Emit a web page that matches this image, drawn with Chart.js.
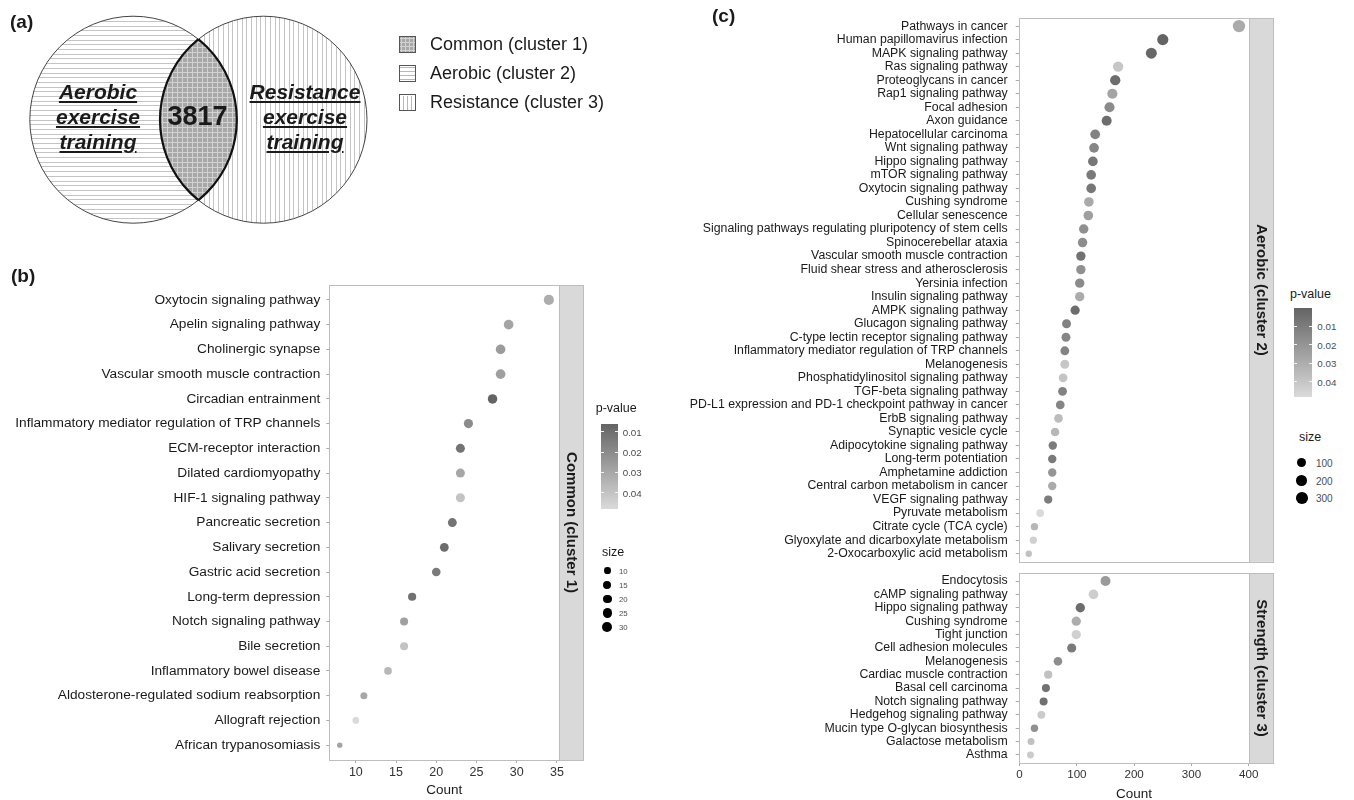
<!DOCTYPE html>
<html>
<head>
<meta charset="utf-8">
<script src="https://cdn.jsdelivr.net/npm/chart.js@4.4.1/dist/chart.umd.min.js"></script>
<style>
body { margin: 0; background: #fff; font-family: "Liberation Sans", Arial, Helvetica, sans-serif; color: #1a1a1a; }
#page { position: relative; width: 1354px; height: 800px; overflow: hidden; }
.abs { position: absolute; white-space: nowrap; }
.mid { transform: translateY(-50%); }
.tag { position: absolute; font-weight: bold; font-size: 19px; line-height: 20px; }
.vtxt { position: absolute; width: 150px; text-align: center; font-weight: bold; font-style: italic; font-size: 21px; line-height: 25px; text-decoration: underline; }
canvas { position: absolute; }
</style>
</head>
<body>
<div id="page">
  <canvas id="venn" width="620" height="240" style="left:0;top:0"></canvas>
  <canvas id="chartB" width="600" height="520" style="left:0;top:280px"></canvas>
  <canvas id="chartC1" width="600" height="568" style="left:690px;top:0"></canvas>
  <canvas id="chartC2" width="600" height="232" style="left:690px;top:568px"></canvas>
  <div class="tag" style="left:10px;top:12px">(a)</div>
  <div class="tag" style="left:11px;top:266px">(b)</div>
  <div class="tag" style="left:712px;top:6px">(c)</div>
</div>
<script>
// ---- data ----
const vennOverlap = 3817;
const vennSets = ['Aerobic exercise training', 'Resistance exercise training'];
const vennLegend = ['Common (cluster 1)', 'Aerobic (cluster 2)', 'Resistance (cluster 3)'];

// (b) common pathways
const bPathways = ['Oxytocin signaling pathway', 'Apelin signaling pathway', 'Cholinergic synapse',
  'Vascular smooth muscle contraction', 'Circadian entrainment', 'Inflammatory mediator regulation of TRP channels',
  'ECM-receptor interaction', 'Dilated cardiomyopathy', 'HIF-1 signaling pathway', 'Pancreatic secretion',
  'Salivary secretion', 'Gastric acid secretion', 'Long-term depression', 'Notch signaling pathway',
  'Bile secretion', 'Inflammatory bowel disease', 'Aldosterone-regulated sodium reabsorption',
  'Allograft rejection', 'African trypanosomiasis'];
const bCount = [34, 29, 28, 28, 27, 24, 23, 23, 23, 22, 21, 20, 17, 16, 16, 14, 11, 10, 8];
const bPValue = [0.032, 0.029, 0.026, 0.027, 0.0062, 0.020, 0.012, 0.030, 0.040, 0.012,
  0.009, 0.014, 0.011, 0.027, 0.040, 0.036, 0.030, 0.048, 0.029];
const bXTicks = [10, 15, 20, 25, 30, 35];
const bSizeBreaks = [10, 15, 20, 25, 30];

// (c) aerobic / strength pathways
const cAerobicPathways = ['Pathways in cancer', 'Human papillomavirus infection', 'MAPK signaling pathway',
  'Ras signaling pathway', 'Proteoglycans in cancer', 'Rap1 signaling pathway', 'Focal adhesion', 'Axon guidance',
  'Hepatocellular carcinoma', 'Wnt signaling pathway', 'Hippo signaling pathway', 'mTOR signaling pathway',
  'Oxytocin signaling pathway', 'Cushing syndrome', 'Cellular senescence',
  'Signaling pathways regulating pluripotency of stem cells', 'Spinocerebellar ataxia',
  'Vascular smooth muscle contraction', 'Fluid shear stress and atherosclerosis', 'Yersinia infection',
  'Insulin signaling pathway', 'AMPK signaling pathway', 'Glucagon signaling pathway',
  'C-type lectin receptor signaling pathway', 'Inflammatory mediator regulation of TRP channels', 'Melanogenesis',
  'Phosphatidylinositol signaling pathway', 'TGF-beta signaling pathway',
  'PD-L1 expression and PD-1 checkpoint pathway in cancer', 'ErbB signaling pathway', 'Synaptic vesicle cycle',
  'Adipocytokine signaling pathway', 'Long-term potentiation', 'Amphetamine addiction',
  'Central carbon metabolism in cancer', 'VEGF signaling pathway', 'Pyruvate metabolism', 'Citrate cycle (TCA cycle)',
  'Glyoxylate and dicarboxylate metabolism', '2-Oxocarboxylic acid metabolism'];
const cAerobicCount = [383, 250, 230, 172, 167, 162, 157, 152, 132, 130, 128, 125, 125, 121, 120, 112, 110, 107, 107, 105,
  105, 97, 82, 81, 79, 79, 76, 75, 71, 68, 62, 58, 57, 57, 57, 50, 36, 26, 24, 16];
const cAerobicPValue = [0.029, 0.0003, 0.002, 0.040, 0.004, 0.026, 0.016, 0.004, 0.013, 0.014, 0.008, 0.009, 0.008, 0.028,
  0.024, 0.018, 0.017, 0.006, 0.018, 0.016, 0.029, 0.004, 0.012, 0.014, 0.013, 0.040, 0.039, 0.012, 0.014, 0.036,
  0.034, 0.010, 0.009, 0.020, 0.029, 0.010, 0.048, 0.034, 0.044, 0.038];
const cStrengthPathways = ['Endocytosis', 'cAMP signaling pathway', 'Hippo signaling pathway', 'Cushing syndrome',
  'Tight junction', 'Cell adhesion molecules', 'Melanogenesis', 'Cardiac muscle contraction', 'Basal cell carcinoma',
  'Notch signaling pathway', 'Hedgehog signaling pathway', 'Mucin type O-glycan biosynthesis',
  'Galactose metabolism', 'Asthma'];
const cStrengthCount = [150, 129, 106, 99, 99, 91, 67, 50, 46, 42, 38, 26, 20, 19];
const cStrengthPValue = [0.022, 0.043, 0.004, 0.030, 0.044, 0.009, 0.017, 0.038, 0.006, 0.005, 0.042, 0.018, 0.038, 0.042];
const cXTicks = [0, 100, 200, 300, 400];
const cSizeBreaks = [100, 200, 300];

const pBreaks = [0.01, 0.02, 0.03, 0.04];

// ---- helpers ----
const FONT = '"Liberation Sans", Arial, Helvetica, sans-serif';
const DARK = 100, LIGHT = 218;
const page = document.getElementById('page');

function grayFor(p, pmin, pmax) {
  const t = Math.max(0, Math.min(1, (p - pmin) / (pmax - pmin)));
  const v = Math.round(DARK + t * (LIGHT - DARK));
  return `rgb(${v},${v},${v})`;
}

// ggplot-like area scale: sqrt of rescaled value
function sizeScale(vmin, vmax, rmin, rmax) {
  return v => rmin + Math.sqrt(Math.max(0, (v - vmin) / (vmax - vmin))) * (rmax - rmin);
}

function addText(txt, x, y, css) {
  const d = document.createElement('div');
  d.className = 'abs mid';
  d.style.left = x + 'px';
  d.style.top = y + 'px';
  d.textContent = txt;
  Object.assign(d.style, css || {});
  page.appendChild(d);
  return d;
}

// ---- (a) venn ----
function hatch(ctx, x0, y0, x1, y1, step, dir, color) {
  ctx.strokeStyle = color;
  ctx.lineWidth = 1;
  ctx.beginPath();
  if (dir === 'h') {
    for (let y = y0; y <= y1; y += step) { const yy = Math.round(y) + 0.5; ctx.moveTo(x0, yy); ctx.lineTo(x1, yy); }
  } else {
    for (let x = x0; x <= x1; x += step) { const xx = Math.round(x) + 0.5; ctx.moveTo(xx, y0); ctx.lineTo(xx, y1); }
  }
  ctx.stroke();
}

function drawVenn() {
  const ctx = document.getElementById('venn').getContext('2d');
  const L = {x: 133.3, y: 119.7}, R = {x: 263.5, y: 119.7}, r = 103.5;
  const circ = c => { ctx.beginPath(); ctx.arc(c.x, c.y, r, 0, Math.PI * 2); };

  ctx.save(); circ(L); ctx.clip();
  ctx.fillStyle = '#fff'; ctx.fillRect(0, 0, 400, 240);
  hatch(ctx, 0, 2, 400, 240, 4.7, 'h', '#c4c4c4');
  ctx.restore();

  ctx.save(); circ(R); ctx.clip();
  ctx.fillStyle = '#fff'; ctx.fillRect(0, 0, 400, 240);
  hatch(ctx, 2, 0, 400, 240, 4.7, 'v', '#c4c4c4');
  ctx.restore();

  // overlap
  ctx.save(); circ(L); ctx.clip(); circ(R); ctx.clip();
  ctx.fillStyle = '#a8a8a8'; ctx.fillRect(0, 0, 400, 240);
  hatch(ctx, 0, 2, 400, 240, 5, 'h', '#d2d2d2');
  hatch(ctx, 2, 0, 400, 240, 5, 'v', '#d2d2d2');
  ctx.restore();

  ctx.strokeStyle = '#444'; ctx.lineWidth = 1;
  circ(L); ctx.stroke();
  circ(R); ctx.stroke();

  ctx.strokeStyle = '#111'; ctx.lineWidth = 2.2;
  ctx.save(); circ(R); ctx.clip(); circ(L); ctx.stroke(); ctx.restore();
  ctx.save(); circ(L); ctx.clip(); circ(R); ctx.stroke(); ctx.restore();

  // legend keys
  const keyY = [44, 73, 102];
  keyY.forEach((cy, i) => {
    const x = 399, y = cy - 8, w = 16, h = 16;
    ctx.save();
    ctx.beginPath(); ctx.rect(x, y, w, h); ctx.clip();
    if (i === 0) {
      ctx.fillStyle = '#a8a8a8'; ctx.fillRect(x, y, w, h);
      hatch(ctx, x, y + 2, x + w, y + h, 4, 'h', '#d2d2d2');
      hatch(ctx, x + 2, y, x + w, y + h, 4, 'v', '#d2d2d2');
    } else {
      ctx.fillStyle = '#fff'; ctx.fillRect(x, y, w, h);
      hatch(ctx, x, y + 2, x + w, y + h, 4, i === 1 ? 'h' : 'v', '#b8b8b8');
    }
    ctx.restore();
    ctx.strokeStyle = '#555'; ctx.lineWidth = 1;
    ctx.strokeRect(x + 0.5, y + 0.5, w, h);
    addText(vennLegend[i], 430, cy, {fontSize: '18px'});
  });

  // set labels
  [[98, vennSets[0]], [305, vennSets[1]]].forEach(([cx, name]) => {
    const d = document.createElement('div');
    d.className = 'vtxt';
    d.style.left = (cx - 75) + 'px';
    d.style.top = '79px';
    d.innerHTML = name.split(' ').join('<br>');
    page.appendChild(d);
  });
  const n = addText(String(vennOverlap), 197.5, 116, {fontSize: '27px', fontWeight: 'bold'});
  n.style.transform = 'translate(-50%, -50%)';
}

// ---- dot charts ----
const stripPlugin = {
  id: 'strip',
  beforeDatasetsDraw(chart, args, opts) {
    const {ctx, chartArea: a} = chart;
    ctx.save();
    ctx.strokeStyle = '#bdbdbd';
    ctx.lineWidth = 1;
    ctx.strokeRect(Math.round(a.left) + 0.5, Math.round(a.top) + 0.5, Math.round(a.right - a.left), Math.round(a.bottom - a.top));
    const sx = Math.round(a.right);
    ctx.fillStyle = '#d9d9d9';
    ctx.fillRect(sx, a.top, opts.width, a.bottom - a.top);
    ctx.strokeRect(sx + 0.5, Math.round(a.top) + 0.5, opts.width, Math.round(a.bottom - a.top));
    ctx.translate(sx + opts.width / 2, (a.top + a.bottom) / 2);
    ctx.rotate(Math.PI / 2);
    ctx.font = 'bold 15px ' + FONT;
    ctx.fillStyle = '#1a1a1a';
    ctx.textAlign = 'center';
    ctx.textBaseline = 'middle';
    ctx.fillText(opts.text, 0, 0);
    ctx.restore();
  }
};

function dotChart(id, o) {
  return new Chart(document.getElementById(id), {
    type: 'scatter',
    data: {
      datasets: [{
        data: o.counts.map((c, i) => ({x: c, y: i + 1})),
        pointBackgroundColor: o.pvals.map(p => grayFor(p, o.pmin, o.pmax)),
        pointBorderColor: 'rgba(0,0,0,0)',
        pointBorderWidth: 0,
        pointRadius: o.counts.map(o.radius),
        pointHoverRadius: o.counts.map(o.radius)
      }]
    },
    options: {
      responsive: false,
      animation: false,
      events: [],
      layout: {padding: o.padding},
      plugins: {legend: {display: false}, tooltip: {enabled: false}, strip: {text: o.strip, width: 24}},
      scales: {
        x: {
          type: 'linear', min: o.xMin, max: o.xMax, display: o.showX,
          afterBuildTicks: s => { s.ticks = o.xTicks.map(v => ({value: v})); },
          afterFit: s => { s.height = o.xHeight; s.paddingLeft = 0; s.paddingRight = 0; },
          ticks: {font: {size: o.xTickSize}, color: '#333', padding: o.xTickPad, maxRotation: 0, autoSkip: false},
          grid: {drawOnChartArea: false, tickLength: 3, color: '#aaa'},
          border: {display: false},
          title: {display: true, text: 'Count', color: '#1a1a1a', font: {size: 13.5, lineHeight: o.titleLH},
            padding: {top: 0, bottom: o.titlePad}}
        },
        y: {
          type: 'linear', reverse: true, min: 0.4, max: o.labels.length + 0.6,
          afterBuildTicks: s => { s.ticks = o.labels.map((_, i) => ({value: i + 1})); },
          afterFit: s => { s.width = o.yWidth; s.paddingTop = 0; s.paddingBottom = 0; },
          ticks: {autoSkip: false, callback: v => o.labels[v - 1], font: {size: o.yTickSize}, color: '#1a1a1a',
            padding: o.yTickPad},
          grid: {drawOnChartArea: false, tickLength: 3, color: '#aaa'},
          border: {display: false}
        }
      }
    },
    plugins: [stripPlugin]
  });
}

function pLegend(o) {
  addText('p-value', o.titleX, o.titleY, {fontSize: '12.5px', color: '#1a1a1a'});
  const bar = document.createElement('div');
  bar.className = 'abs';
  Object.assign(bar.style, {left: o.barX + 'px', top: o.barTop + 'px', width: o.barW + 'px', height: o.barH + 'px',
    background: `linear-gradient(to bottom, ${grayFor(o.pmin, o.pmin, o.pmax)}, ${grayFor(o.pmax, o.pmin, o.pmax)})`});
  page.appendChild(bar);
  pBreaks.forEach(p => {
    const y = o.barTop + (p - o.pmin) / (o.pmax - o.pmin) * o.barH;
    [0, o.barW - 3].forEach(dx => {
      const t = document.createElement('div');
      t.className = 'abs';
      Object.assign(t.style, {left: (o.barX + dx) + 'px', top: (y - 0.5) + 'px', width: '3px', height: '1px', background: '#f2f2f2'});
      page.appendChild(t);
    });
    addText(p.toFixed(2), o.barX + o.barW + 5, y, {fontSize: '9.8px', color: '#4d4d4d'});
  });
}

function sizeLegend(o) {
  addText('size', o.titleX, o.titleY, {fontSize: '12.5px', color: '#1a1a1a'});
  o.breaks.forEach((s, i) => {
    const y = o.y0 + i * o.step, r = o.radius(s);
    const d = document.createElement('div');
    d.className = 'abs';
    Object.assign(d.style, {left: (o.dotX - r) + 'px', top: (y - r) + 'px', width: 2 * r + 'px', height: 2 * r + 'px',
      borderRadius: '50%', background: '#000'});
    page.appendChild(d);
    addText(String(s), o.labelX, y, {fontSize: o.labelSize, color: '#4d4d4d'});
  });
}

Chart.defaults.font.family = FONT;
drawVenn();

// (b)
const bPmin = Math.min(...bPValue), bPmax = Math.max(...bPValue);
const bRadius = sizeScale(Math.min(...bCount), Math.max(...bCount), 2.7, 5.1);
dotChart('chartB', {
  labels: bPathways, counts: bCount, pvals: bPValue, pmin: bPmin, pmax: bPmax, radius: bRadius,
  strip: 'Common (cluster 1)', xMin: 6.7, xMax: 35.3, xTicks: bXTicks, showX: true,
  padding: {left: 0, right: 40.7, top: 4, bottom: 0},
  xHeight: 40, xTickSize: 12.5, xTickPad: 2, titleLH: 1.2, titlePad: 2,
  yWidth: 329.3, yTickSize: 13.7, yTickPad: 6
});
pLegend({titleX: 595.7, titleY: 407.7, barX: 600.7, barTop: 424, barW: 17, barH: 85, pmin: bPmin, pmax: bPmax});
sizeLegend({titleX: 602, titleY: 551.7, breaks: bSizeBreaks, radius: bRadius, dotX: 607.3, y0: 570.7, step: 14.1,
  labelX: 619, labelSize: '7.8px'});

// (c)
const cAll = cAerobicCount.concat(cStrengthCount);
const cAllP = cAerobicPValue.concat(cStrengthPValue);
const cPmin = Math.min(...cAllP), cPmax = Math.max(...cAllP);
const cRadius = sizeScale(Math.min(...cAll), Math.max(...cAll), 3.2, 6.2);
const cBase = {pmin: cPmin, pmax: cPmax, radius: cRadius, xMin: -1.5, xMax: 401, xTicks: cXTicks,
  yWidth: 328.7, yTickSize: 12.3, yTickPad: 8, xTickSize: 11.6, xTickPad: 2};
dotChart('chartC1', Object.assign({}, cBase, {
  labels: cAerobicPathways, counts: cAerobicCount, pvals: cAerobicPValue, strip: 'Aerobic (cluster 2)',
  showX: false, padding: {left: 0, right: 40.7, top: 18, bottom: 2}, xHeight: 0, titleLH: 1, titlePad: 0
}));
dotChart('chartC2', Object.assign({}, cBase, {
  labels: cStrengthPathways, counts: cStrengthCount, pvals: cStrengthPValue, strip: 'Strength (cluster 3)',
  showX: true, padding: {left: 0, right: 40.7, top: 2, bottom: 0}, xHeight: 37, titleLH: 0.8, titlePad: 0
}));
pLegend({titleX: 1290, titleY: 294, barX: 1294.3, barTop: 308, barW: 18, barH: 88.7, pmin: cPmin, pmax: cPmax});
sizeLegend({titleX: 1299, titleY: 437.3, breaks: cSizeBreaks, radius: cRadius, dotX: 1301.7, y0: 462.7, step: 17.8,
  labelX: 1316, labelSize: '10px'});
</script>
</body>
</html>
